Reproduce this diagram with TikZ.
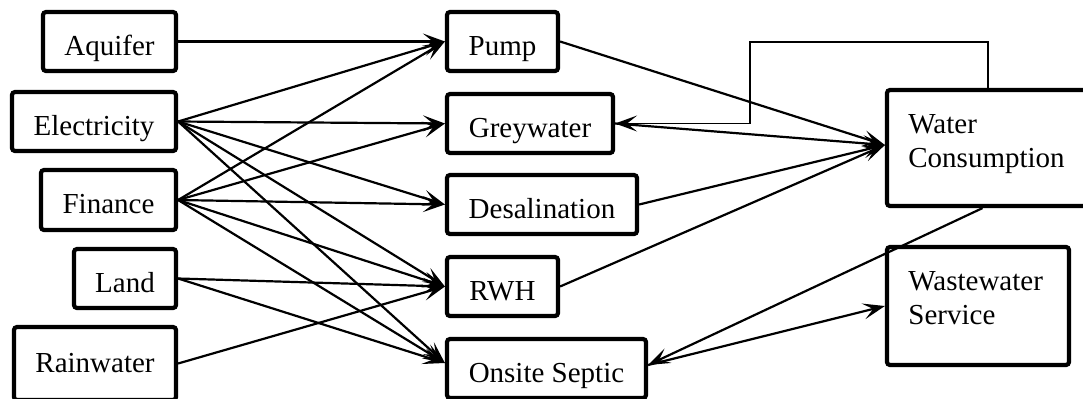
\documentclass[tikz,border=0pt]{standalone}
\usepackage{fontspec}
\setmainfont{Liberation Serif}
\usetikzlibrary{arrows.meta}
\begin{document}
\begin{tikzpicture}[x=0.5pt,y=-0.5pt,
  txt/.style={font=\fontsize{14.5}{17.2}\selectfont},
  box/.style={draw, line width=2.1pt, rounded corners=1.5pt, inner sep=0pt,
    txt, text height=13.5pt, text depth=0pt},
  tip/.style={-{Stealth[length=11pt,width=8pt,inset=5pt]}},
  link/.style={line width=1.1pt, tip},
  elbow/.style={line width=0.8pt, tip},
  lbl/.style={anchor=base west, inner sep=0pt, txt}]
\useasboundingbox (0,0) rectangle (1083,398);
\clip (0,0) rectangle (1083,398);
\fill[white] (0,0) rectangle (1083,398);

% resources
\node[box, minimum width=66.5pt, minimum height=29.5pt] (aq) at (109.5,41.5) {Aquifer};
\node[box, minimum width=82pt,   minimum height=29.5pt] (el) at (94,121.5)   {Electricity};
\node[box, minimum width=67.5pt, minimum height=30pt]   (fi) at (108.5,200)  {Finance};
\node[box, minimum width=51pt,   minimum height=29.5pt] (la) at (125,278.5)  {Land};
\node[box, minimum width=81pt,   minimum height=36.5pt, text depth=5pt] (rw) at (95,363.5) {Rainwater};

% supply technologies
\node[box, minimum width=55.5pt, minimum height=29.5pt] (pu) at (502.5,41.5) {Pump};
\node[box, minimum width=83pt,   minimum height=29.5pt] (gw) at (530,123.5)  {Greywater};
\node[box, minimum width=95pt,   minimum height=29.5pt] (de) at (542,204.5)  {Desalination};
\node[box, minimum width=55.5pt, minimum height=29.5pt] (rh) at (502.5,286.5) {RWH};
\node[box, minimum width=99.5pt, minimum height=29.5pt] (os) at (546.5,368.5) {Onsite Septic};

% demands
\node[box, minimum width=105.5pt, minimum height=58pt] (wc) at (992.5,148) {};
\node[box, minimum width=91pt,    minimum height=59pt] (ww) at (978,306)   {};
\node[lbl] (wct) at (908,133) {\begin{tabular}[t]{@{}l@{}}Water\\Consumption\end{tabular}};
\node[lbl] (wwt) at (908,290) {\begin{tabular}[t]{@{}l@{}}Wastewater\\Service\end{tabular}};

% inputs to the supply technologies
\draw[link] (aq.east) -- (pu.west);
\draw[link] (el.east) -- (pu.west);
\draw[link] (fi.east) -- (pu.west);
\draw[link] (el.east) -- (gw.west);
\draw[link] (fi.east) -- (gw.west);
\draw[link] (el.east) -- (de.west);
\draw[link] (fi.east) -- (de.west);
\draw[link] (el.east) -- (rh.west);
\draw[link] (fi.east) -- (rh.west);
\draw[link] (la.east) -- (rh.west);
\draw[link] (rw.east) -- (rh.west);
\draw[link] (el.east) -- ([yshift=2.75pt]os.west);
\draw[link] (fi.east) -- ([yshift=2.75pt]os.west);
\draw[link] (la.east) -- ([yshift=2.75pt]os.west);

% supply to consumption
\draw[link] (pu.east) -- ([yshift=1.5pt]wc.west);
\draw[link] (gw.east) -- ([yshift=1.5pt]wc.west);
\draw[link] (de.east) -- ([yshift=1.5pt]wc.west);
\draw[link] (rh.east) -- ([yshift=1.5pt]wc.west);

% return of greywater
\coordinate (bend) at (750,42);
\draw[elbow] ([xshift=-2.25pt]wc.north) |- (bend) |- (gw.east);

% wastewater path
\draw[link] ([xshift=-5pt]wc.south) -- ([yshift=1.75pt]os.east);
\draw[link] ([yshift=1.75pt]os.east) -- (ww.west);
\end{tikzpicture}
\end{document}
